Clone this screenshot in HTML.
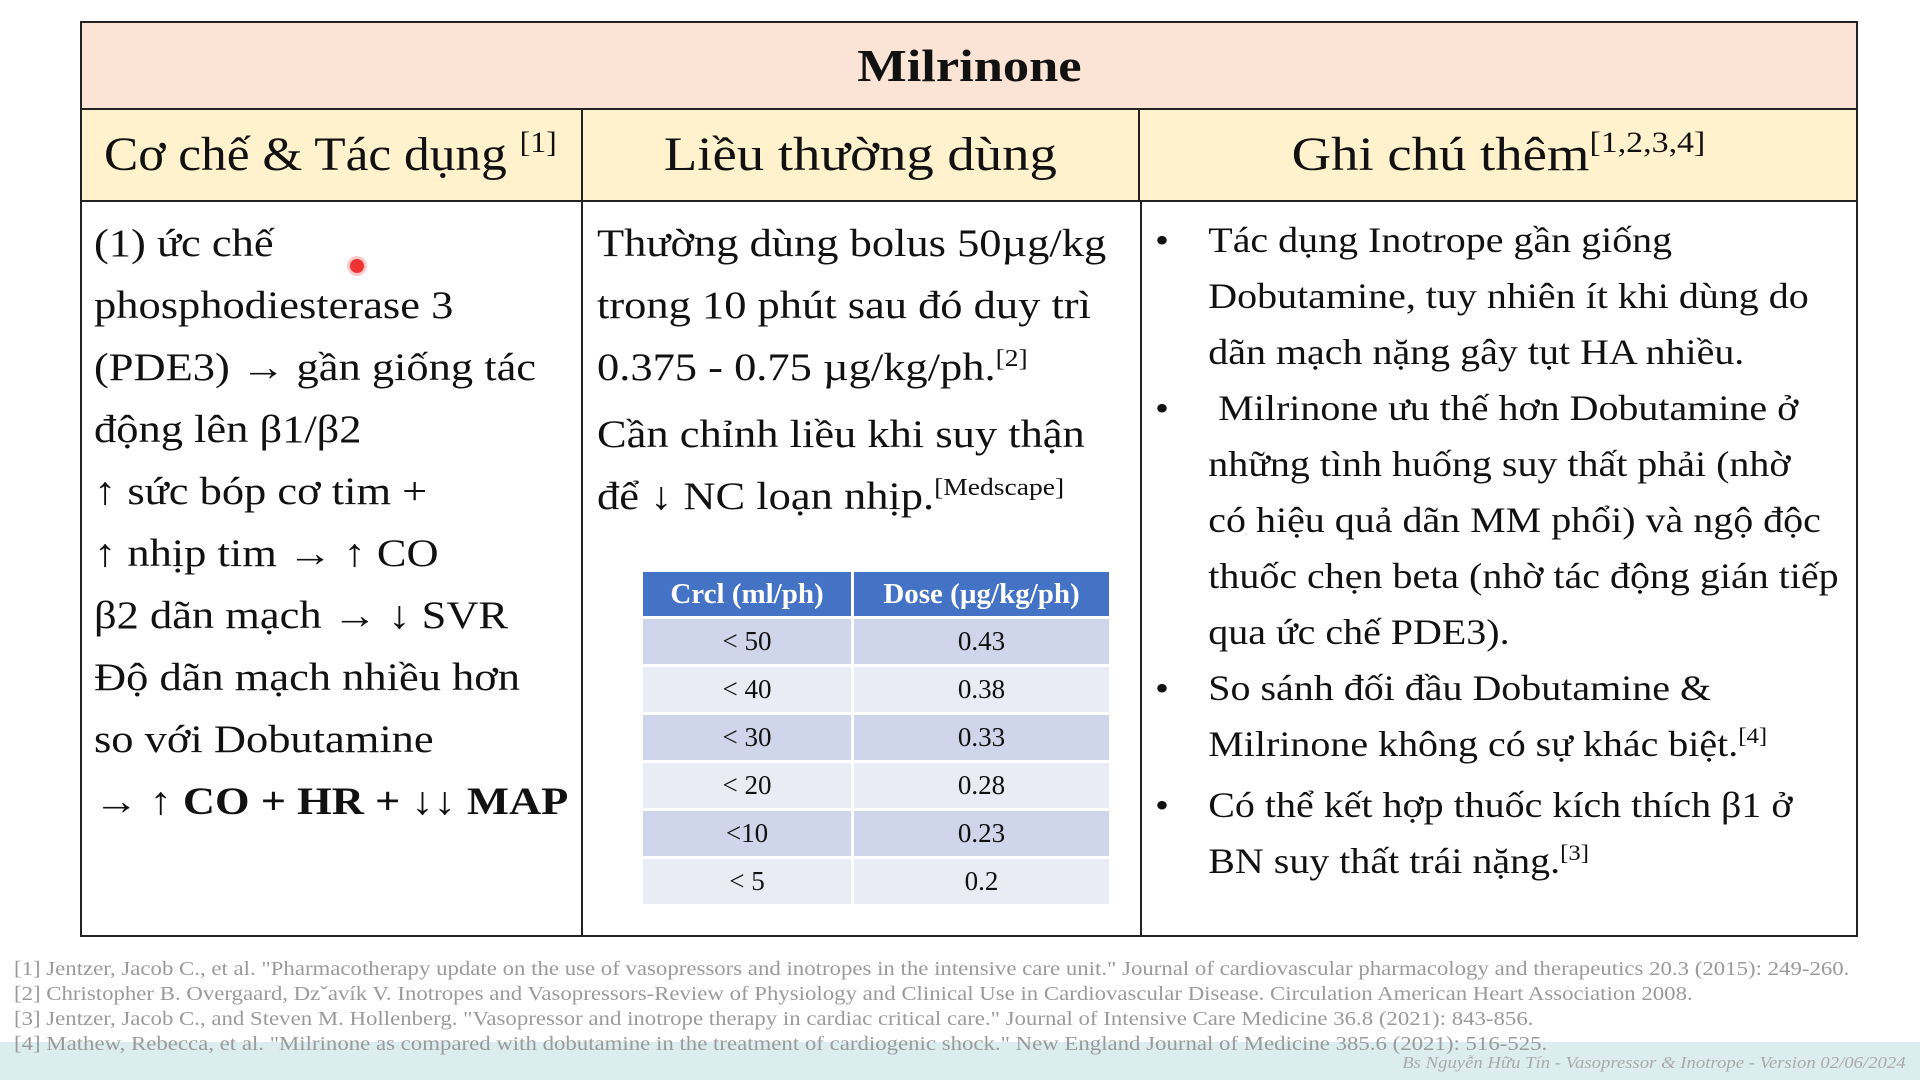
<!DOCTYPE html>
<html><head><meta charset="utf-8">
<style>
body{margin:0;width:1920px;height:1080px;background:#fff;position:relative;overflow:hidden;font-family:"Liberation Serif","DejaVu Serif",serif;color:#111}
.abs{position:absolute}
.sx{display:inline-block;transform:scaleX(1.14);transform-origin:center}
.title{position:absolute;left:80px;top:21px;width:1778px;height:89px;background:#FBE4D5;border:2px solid #222;box-sizing:border-box;text-align:center;font-weight:bold;font-size:46px;line-height:86px}
.hdr{position:absolute;top:110px;height:92px;background:#FFF2CC;border:2px solid #222;border-top:none;box-sizing:border-box;font-size:48px;line-height:90px;white-space:nowrap}
sup{font-size:0.62em;vertical-align:0;position:relative;top:-0.6em}
.col{position:absolute;top:202px;height:735px;border:2px solid #222;border-top:none;box-sizing:border-box}
.c12{font-size:39px;line-height:62px;transform:scaleX(1.14);transform-origin:left top}
.c3{font-size:36px;line-height:56px;transform:scaleX(1.11);transform-origin:left top}
table{position:absolute;left:643px;top:572px;width:472px;border-collapse:separate;border-spacing:3px;margin:-3px}
td{text-align:center;font-size:27px;height:45px;padding:0}
th{background:#4472C4;color:#fff;font-size:29px;height:44px;padding:0}
tr.a td{background:#CFD5EA}tr.b td{background:#E9EBF5}
.foot{position:absolute;left:14px;font-size:19.5px;color:#9a9a9a;white-space:nowrap;transform:scaleX(1.17);transform-origin:left top}
</style></head><body>
<div class="abs" style="left:0;top:1042px;width:1920px;height:38px;background:#DCEDEF"></div>
<div class="title"><span class="sx">Milrinone</span></div>
<div class="hdr" style="left:80px;width:503px;border-left:2px solid #222;padding-left:22px"><span class="sx" style="transform:scaleX(1.07);transform-origin:left">Cơ chế &amp; Tác dụng <sup>[1]</sup></span></div>
<div class="hdr" style="left:583px;width:557px;border-left:none;text-align:center"><span class="sx">Liều thường dùng</span></div>
<div class="hdr" style="left:1140px;width:718px;border-left:none;text-align:center"><span class="sx">Ghi chú thêm<sup>[1,2,3,4]</sup></span></div>
<div class="col" style="left:80px;width:503px"></div>
<div class="col" style="left:581px;width:561px"></div>
<div class="col" style="left:1140px;width:718px;border-left:none"></div>

<div class="abs c12" style="left:94px;top:213px;white-space:nowrap">
(1) ức chế<br>phosphodiesterase 3<br>(PDE3) → gần giống tác<br>động lên β1/β2<br>↑ sức bóp cơ tim +<br>↑ nhịp tim → ↑ CO<br>β2 dãn mạch → ↓ SVR<br>Độ dãn mạch nhiều hơn<br>so với Dobutamine<br><b>→ ↑ CO + HR + ↓↓ MAP</b>
</div>
<div class="abs" style="left:350px;top:259px;width:14px;height:14px;border-radius:50%;background:#e33;box-shadow:0 0 0 3px rgba(255,120,120,0.4)"></div>

<div class="abs c12" style="left:597px;top:213px;white-space:nowrap">
Thường dùng bolus 50µg/kg<br>trong 10 phút sau đó duy trì<br>0.375 - 0.75 µg/kg/ph.<sup>[2]</sup><br>Cần chỉnh liều khi suy thận<br>để ↓ NC loạn nhịp.<sup>[Medscape]</sup>
</div>

<table>
<tr><th style="width:208px">Crcl (ml/ph)</th><th>Dose (µg/kg/ph)</th></tr>
<tr class="a"><td>&lt; 50</td><td>0.43</td></tr>
<tr class="b"><td>&lt; 40</td><td>0.38</td></tr>
<tr class="a"><td>&lt; 30</td><td>0.33</td></tr>
<tr class="b"><td>&lt; 20</td><td>0.28</td></tr>
<tr class="a"><td>&lt;10</td><td>0.23</td></tr>
<tr class="b"><td>&lt; 5</td><td>0.2</td></tr>
</table>

<div class="abs c3" style="left:1155px;top:212px;white-space:nowrap">
<div style="position:relative;padding-left:48px">
<span class="abs" style="left:0">•</span>Tác dụng Inotrope gần giống<br>Dobutamine, tuy nhiên ít khi dùng do<br>dãn mạch nặng gây tụt HA nhiều.</div>
<div style="position:relative;padding-left:48px">
<span class="abs" style="left:0">•</span>&nbsp;Milrinone ưu thế hơn Dobutamine ở<br>những tình huống suy thất phải (nhờ<br>có hiệu quả dãn MM phổi) và ngộ độc<br>thuốc chẹn beta (nhờ tác động gián tiếp<br>qua ức chế PDE3).</div>
<div style="position:relative;padding-left:48px">
<span class="abs" style="left:0">•</span>So sánh đối đầu Dobutamine &amp;<br>Milrinone không có sự khác biệt.<sup>[4]</sup></div>
<div style="position:relative;padding-left:48px">
<span class="abs" style="left:0">•</span>Có thể kết hợp thuốc kích thích β1 ở<br>BN suy thất trái nặng.<sup>[3]</sup></div>
</div>

<div class="foot" style="top:959px">[1] Jentzer, Jacob C., et al. "Pharmacotherapy update on the use of vasopressors and inotropes in the intensive care unit." Journal of cardiovascular pharmacology and therapeutics 20.3 (2015): 249-260.</div>
<div class="foot" style="top:984px">[2] Christopher B. Overgaard, Dzˇavík V. Inotropes and Vasopressors-Review of Physiology and Clinical Use in Cardiovascular Disease. Circulation American Heart Association 2008.</div>
<div class="foot" style="top:1009px">[3] Jentzer, Jacob C., and Steven M. Hollenberg. "Vasopressor and inotrope therapy in cardiac critical care." Journal of Intensive Care Medicine 36.8 (2021): 843-856.</div>
<div class="foot" style="top:1034px">[4] Mathew, Rebecca, et al. "Milrinone as compared with dobutamine in the treatment of cardiogenic shock." New England Journal of Medicine 385.6 (2021): 516-525.</div>
<div class="abs" style="right:14px;top:1053px;font-size:17px;font-style:italic;color:#aaa;white-space:nowrap;transform:scaleX(1.1);transform-origin:right top">Bs Nguyễn Hữu Tín - Vasopressor &amp; Inotrope - Version 02/06/2024</div>
</body></html>
